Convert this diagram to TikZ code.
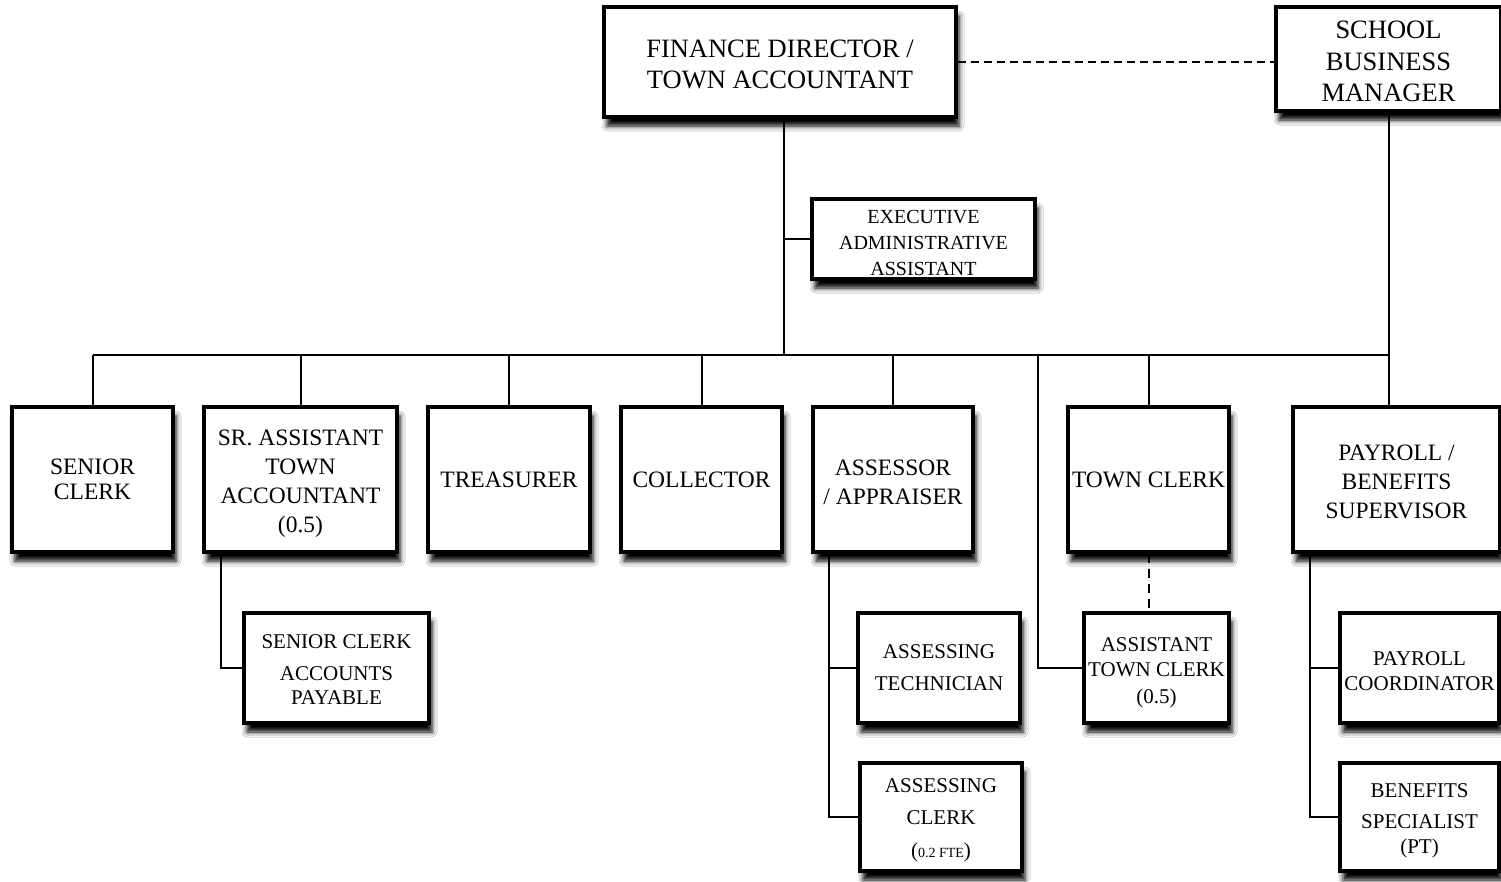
\documentclass[tikz,border=0pt]{standalone}
\usepackage{fontspec}
\setmainfont{Liberation Serif}
\usetikzlibrary{shadows.blur}
\newcommand{\upstrut}[1]{\rule{0pt}{#1}}
\begin{document}
\begin{tikzpicture}[x=1pt,y=-1pt,
  box/.style={draw=black, line width=3.2pt, fill=white, inner sep=0pt, align=center,
    blur shadow={shadow xshift=3pt, shadow yshift=-9pt, shadow blur radius=5pt, shadow opacity=100}},
  topfont/.style={font=\fontsize{26.5}{31.5}\selectfont},
  midfont/.style={font=\fontsize{23.5}{29}\selectfont},
  eafont/.style={font=\fontsize{20}{26}\selectfont},
  lowfont/.style={font=\fontsize{21}{25}\selectfont},
  conn/.style={line width=2pt},
  dconn/.style={line width=2pt, dash pattern=on 8pt off 5pt}]
\useasboundingbox (0,0) rectangle (1501,881);
\fill[white] (0,0) rectangle (1501,881);

% top level
\node[box,topfont,minimum width=352pt,minimum height=110pt] (fd) at (780,62) {\upstrut{22.5pt}FINANCE DIRECTOR /\\TOWN ACCOUNTANT};
\node[box,topfont,minimum width=225pt,minimum height=104pt] (sbm) at (1388.5,59) {\upstrut{22.5pt}SCHOOL\\BUSINESS\\MANAGER};
\node[box,eafont,minimum width=223pt,minimum height=80pt] (eaa) at (923.5,239) {\upstrut{20.5pt}EXECUTIVE\\ADMINISTRATIVE\\ASSISTANT};

% second row
\node[box,midfont,minimum width=161pt,minimum height=145pt] (sc) at (92.5,479.5) {SENIOR\\[-4pt]CLERK};
\node[box,midfont,minimum width=193pt,minimum height=145pt] (sata) at (300.5,479.5) {\upstrut{23.5pt}SR. ASSISTANT\\TOWN\\ACCOUNTANT\\(0.5)};
\node[box,midfont,minimum width=162pt,minimum height=145pt] (tr) at (509,479.5) {TREASURER};
\node[box,midfont,minimum width=161pt,minimum height=145pt] (col) at (701.5,479.5) {COLLECTOR};
\node[box,midfont,minimum width=160pt,minimum height=145pt] (ass) at (893,479.5) {\upstrut{20.6pt}ASSESSOR\\/ APPRAISER};
\node[box,midfont,minimum width=161pt,minimum height=145pt] (tc) at (1148.5,479.5) {TOWN CLERK};
\node[box,midfont,minimum width=207pt,minimum height=145pt] (pbs) at (1396.5,479.5) {\upstrut{20.6pt}PAYROLL /\\BENEFITS\\SUPERVISOR};

% third row
\node[box,lowfont,minimum width=185pt,minimum height=110pt] (scap) at (336.5,668) {\upstrut{18pt}SENIOR CLERK\\[7pt]ACCOUNTS\\[-1pt]PAYABLE};
\node[box,lowfont,minimum width=162pt,minimum height=110pt] (at) at (939,668) {ASSESSING\\[7pt]TECHNICIAN};
\node[box,lowfont,minimum width=162pt,minimum height=108pt] (ac) at (941,817) {\upstrut{20pt}ASSESSING\\[7pt]CLERK\\[8pt]({\fontsize{14}{16}\selectfont 0.2 FTE})};
\node[box,lowfont,minimum width=145pt,minimum height=110pt] (atc) at (1156.5,668) {\upstrut{24pt}ASSISTANT\\TOWN CLERK\\[2pt](0.5)};
\node[box,lowfont,minimum width=159pt,minimum height=110pt] (pc) at (1419.5,668) {\upstrut{20pt}PAYROLL\\COORDINATOR};
\node[box,lowfont,minimum width=159pt,minimum height=108pt] (bs) at (1419.5,817) {\upstrut{22pt}BENEFITS\\[6pt]SPECIALIST\\(PT)};

% connectors
\coordinate (j0) at (784,355);
\coordinate (jr) at (1388.5,355);
\coordinate (jtc) at (1038,355);
\coordinate (jsa) at (221,552);
\coordinate (jas) at (829,552);
\coordinate (jpb) at (1310,552);

\draw[dconn] (fd.east) -- (fd.east -| sbm.west);
\draw[conn] (fd.south -| j0) -- (j0);
\draw[conn] (eaa.west) -- (eaa.west -| j0);
\draw[conn] (sc.north |- j0) -- (jr);
\draw[conn] (sbm.south) -- (sbm.south |- pbs.north);
\foreach \n in {sc,sata,tr,col,ass,tc}{
  \draw[conn] (\n.north |- j0) -- (\n.north);
}
\draw[conn] (jtc) |- (atc.west);
\draw[dconn, dash pattern=on 9pt off 6pt] (tc.south) -- (tc.south |- atc.north);
\draw[conn] (jsa) |- (scap.west);
\draw[conn] (jas) |- (at.west);
\draw[conn] (jas) |- (ac.west);
\draw[conn] (jpb) |- (pc.west);
\draw[conn] (jpb) |- (bs.west);
\end{tikzpicture}
\end{document}
